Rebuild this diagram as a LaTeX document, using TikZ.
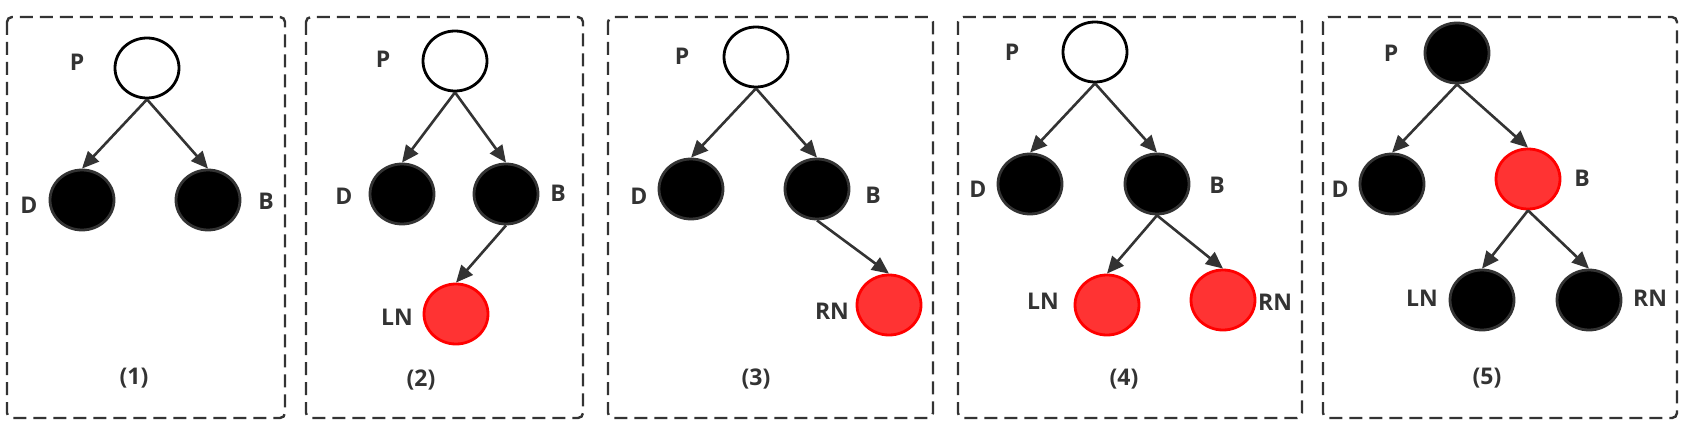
\documentclass[tikz,border=0pt]{standalone}
\usepackage{fontspec}
\setmainfont{Open Sans}
\usetikzlibrary{arrows.meta,shapes.geometric}
\definecolor{dk}{HTML}{333333}
\definecolor{rfill}{HTML}{FF3333}
\definecolor{rline}{HTML}{FF0000}
\tikzset{
  panel/.style={draw=dk, line width=2.4pt, dash pattern=on 13pt off 7pt, rounded corners=5pt},
  nd/.style={ellipse, minimum width=64pt, minimum height=60pt, inner sep=0pt, line width=2.8pt},
  wnode/.style={nd, draw=black, fill=white},
  bnode/.style={nd, draw=dk, fill=black},
  rnode/.style={nd, draw=rline, fill=rfill},
  lbl/.style={font=\fontsize{23}{26}\selectfont\bfseries, text=dk, inner sep=0pt},
  edge/.style={draw=dk, line width=2.6pt, -{Triangle[length=17pt,width=15pt]}},
}
\begin{document}
\begin{tikzpicture}[x=1pt,y=-1pt]
\useasboundingbox (0,0) rectangle (1692,436);
% panels
\draw[panel] (7,17) rectangle (285,418);
\draw[panel] (306,17) rectangle (583,418);
\draw[panel] (608,17) rectangle (933,418);
\draw[panel] (958,17) rectangle (1302,418);
\draw[panel] (1323,17) rectangle (1677,418);
% panel 1
\node[wnode] (p1) at (147,68) {};
\node[bnode] (d1) at (82,200) {};
\node[bnode] (b1) at (208,200) {};
\node[lbl] (p1l) at (77,62) {P};
\node[lbl] (d1l) at (29,205) {D};
\node[lbl] (b1l) at (266,201) {B};
\node[lbl] (c1) at (134,378) {(1)};
\draw[edge] (p1.south) -- (d1.north);
\draw[edge] (p1.south) -- (b1.north);
% panel 2
\node[wnode] (p2) at (455,61) {};
\node[bnode] (d2) at (402,194) {};
\node[bnode] (b2) at (506,194) {};
\node[rnode] (ln2) at (456,314) {};
\node[lbl] (p2l) at (383,59) {P};
\node[lbl] (d2l) at (344,196) {D};
\node[lbl] (b2l) at (558,193) {B};
\node[lbl] (ln2l) at (397,317) {LN};
\node[lbl] (c2) at (421,380) {(2)};
\draw[edge] (p2.south) -- (d2.north);
\draw[edge] (p2.south) -- (b2.north);
\draw[edge] (b2.south) -- (ln2.north);
% panel 3
\node[wnode] (p3) at (756,57) {};
\node[bnode] (d3) at (691,189) {};
\node[bnode] (b3) at (817,189) {};
\node[rnode] (rn3) at (889,305) {};
\node[lbl] (p3l) at (682,56) {P};
\node[lbl] (d3l) at (639,196) {D};
\node[lbl] (b3l) at (873,195) {B};
\node[lbl] (rn3l) at (832,311) {RN};
\node[lbl] (c3) at (756,379) {(3)};
\draw[edge] (p3.south) -- (d3.north);
\draw[edge] (p3.south) -- (b3.north);
\draw[edge] (b3.south) -- (rn3.north);
% panel 4
\node[wnode] (p4) at (1095,52) {};
\node[bnode] (d4) at (1030,184) {};
\node[bnode] (b4) at (1157,184) {};
\node[rnode] (ln4) at (1107,305) {};
\node[rnode] (rn4) at (1223,300) {};
\node[lbl] (p4l) at (1012,52) {P};
\node[lbl] (d4l) at (978,189) {D};
\node[lbl] (b4l) at (1217,185) {B};
\node[lbl] (ln4l) at (1043,301) {LN};
\node[lbl] (rn4l) at (1275,302) {RN};
\node[lbl] (c4) at (1124,379) {(4)};
\draw[edge] (p4.south) -- (d4.north);
\draw[edge] (p4.south) -- (b4.north);
\draw[edge] (b4.south) -- (ln4.north);
\draw[edge] (b4.south) -- (rn4.north);
% panel 5
\node[bnode] (p5) at (1457,53) {};
\node[bnode] (d5) at (1392,184) {};
\node[rnode] (b5) at (1528,179) {};
\node[bnode] (ln5) at (1482,300) {};
\node[bnode] (rn5) at (1589,300) {};
\node[lbl] (p5l) at (1391,53) {P};
\node[lbl] (d5l) at (1340,189) {D};
\node[lbl] (b5l) at (1582,178) {B};
\node[lbl] (ln5l) at (1422,298) {LN};
\node[lbl] (rn5l) at (1650,298) {RN};
\node[lbl] (c5) at (1487,378) {(5)};
\draw[edge] (p5.south) -- (d5.north);
\draw[edge] (p5.south) -- (b5.north);
\draw[edge] (b5.south) -- (ln5.north);
\draw[edge] (b5.south) -- (rn5.north);
\end{tikzpicture}
\end{document}
